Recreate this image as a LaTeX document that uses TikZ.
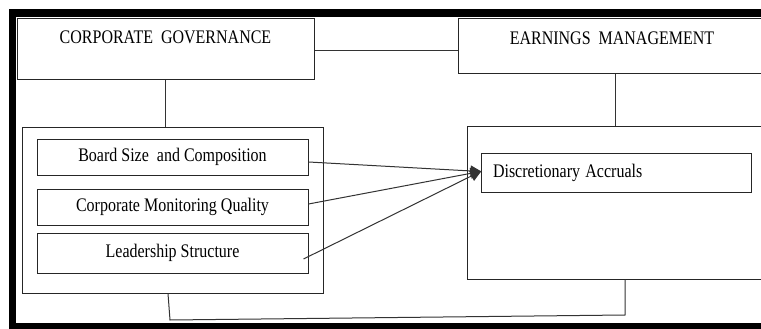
\documentclass[tikz,border=0pt]{standalone}
\usepackage{fontspec}
\setmainfont{Liberation Serif}
\usetikzlibrary{arrows.meta}
\newcommand\tallt[1]{\scalebox{1}[1.2]{#1}}
\tikzset{
  box/.style={draw=black!85, line width=1pt, minimum width=#1, inner sep=0pt},
  lbl/.style={font=\fontsize{16}{18}\selectfont, inner sep=0pt},
  conn/.style={draw=black!80, line width=1pt},
  arr/.style={conn, -{Triangle[length=11pt,width=11pt]}, shorten >=-1pt}
}
\begin{document}
\begin{tikzpicture}[x=1pt,y=-1pt]
\clip (0,0) rectangle (761,329);
\fill[white] (0,0) rectangle (761,329);
% thick frame
\fill[black] (9,9) rectangle (761,17);
\fill[black] (9,9) rectangle (16,329);
\fill[black] (9,322.5) rectangle (761,329);

% top boxes
\node[box=297pt, minimum height=61pt] (cg) at (165.5,49.5) {};
\node[lbl] (cgt) at (165.5,37) {\tallt{CORPORATE\ \ GOVERNANCE}};
\node[box=308pt, minimum height=55pt] (em) at (612,46.5) {};
\node[lbl] (emt) at (612,38) {\tallt{EARNINGS\ \ MANAGEMENT}};

% left group
\node[box=301pt, minimum height=166pt] (lo) at (172.5,210) {};
\node[box=271pt, minimum height=36pt, lbl] (bs) at (172.5,157) {\tallt{Board Size\ \ and Composition}};
\node[box=271pt, minimum height=36pt, lbl] (cm) at (172.5,207) {\tallt{Corporate Monitoring Quality}};
\node[box=271pt, minimum height=40pt, lbl] (ls) at (172.5,253) {\tallt{Leadership Structure}};

% right group
\node[box=298pt, minimum height=153pt] (eo) at (616,202.5) {};
\node[box=270pt, minimum height=39pt, lbl, inner xsep=12pt, text width=246pt, align=left] (da) at (616,172.5) {\tallt{Discretionary Accruals}};

% connectors
\draw[conn] ([yshift=-1.5pt]cg.east) -- ([yshift=-1.5pt]cg.east -| em.west);
\draw[conn] (cg.south) -- (cg.south |- lo.north);
\draw[conn] ([xshift=3pt]em.south) -- ([xshift=3pt]em.south |- eo.north);

\draw[arr] ([yshift=-5pt]bs.east) -- ([yshift=1pt]da.west);
\draw[arr] ([yshift=3pt]cm.east) -- ([yshift=1pt]da.west);
\draw[arr] ([xshift=-5pt,yshift=-6pt]ls.east) -- ([yshift=1pt]da.west);

\coordinate (b1) at (170,320);
\coordinate (b2) at (625,315);
\draw[conn] ([xshift=-4.5pt]lo.south) -- (b1) -- (b2) -- (b2 |- eo.south);
\end{tikzpicture}
\end{document}
